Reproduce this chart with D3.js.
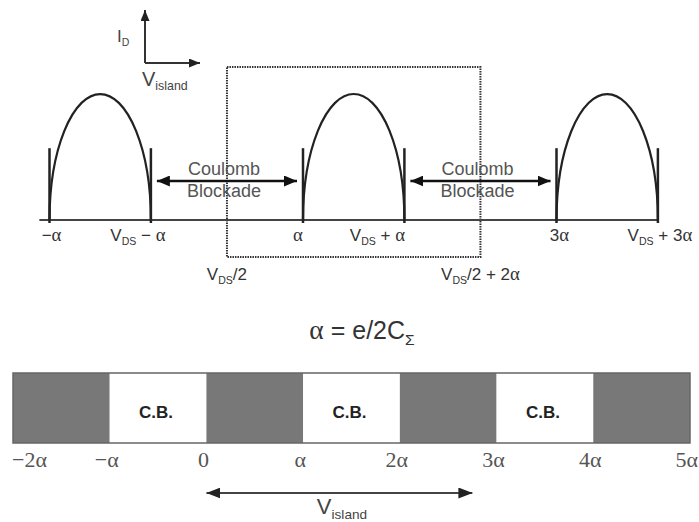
<!DOCTYPE html>
<html lang="en">
  <head>
    <meta charset="UTF-8" />
    <title>Coulomb blockade windows</title>
    <style>
      body { margin: 0; background: #fff; }
      svg { display: block; }
    </style>
  </head>
  <body>
    <script src="https://cdn.jsdelivr.net/npm/d3@7"></script>
    <div id="app"></div>
    <script>
    // values in units of alpha
      const VDS = 0.8;
      const domeStarts = [-1, 1, 3];
      const domeHeight = 1;
      const tickHeight = 0.57;
      const topTickValues = [-1, 1 - 2 + VDS, 1, 1 + VDS, 3, 3 + VDS];
      const topTickLabels = ["−α", "V_{DS} − α", "α", "V_{DS} + α", "3α", "V_{DS} + 3α"];
      const blockadeSpans = [[-1 + VDS, 1], [1 + VDS, 3]];
      const blockadeText = ["Coulomb", "Blockade"];
      const windowSpan = [VDS / 2, VDS / 2 + 2];
      const windowLabels = ["V_{DS}/2", "V_{DS}/2 + 2α"];
      const baselineSpan = [-1.08, 3 + VDS];

      const bandEdges = [-2, -1, 0, 1, 2, 3, 4, 5];
      const bandKinds = ["on", "cb", "on", "cb", "on", "cb", "on"];
      const bandTickLabels = ["−2α", "−α", "0", "α", "2α", "3α", "4α", "5α"];
      const islandSpan = [0, 2.75];

      const formula = "α = e/2C_{Σ}";

    //SVG
      const w = 699;
      const h = 522;
      const ink = "#222";
      const grey = "#444";
      const sans = "'Liberation Sans', Arial";

      const svg = d3.select("#app")
        .append("svg")
        .attr("width", w)
        .attr("height", h);

      const defs = svg.append("defs");
      const marker = (id, len, wid, col) => {
        defs.append("marker")
          .attr("id", id)
          .attr("markerUnits", "userSpaceOnUse")
          .attr("markerWidth", len)
          .attr("markerHeight", wid)
          .attr("refX", len)
          .attr("refY", wid / 2)
          .attr("orient", "auto-start-reverse")
          .append("path")
          .attr("d", `M0,0 L${len},${wid / 2} L0,${wid} Z`)
          .attr("fill", col);
      };
      marker("head", 13, 11, "#111");
      marker("headSmall", 11, 9, "#222");
      marker("headGrey", 14, 11, "#222");

    // text with _{sub} and serif alpha
      const rich = (sel, str, size) => {
        const parts = str.split(/(_\{[^}]*\})/);
        let lowered = false;
        parts.forEach(p => {
          if (!p) return;
          if (p.startsWith("_{")) {
            sel.append("tspan")
              .attr("font-size", size * 0.62)
              .attr("dy", size * 0.22)
              .text(p.slice(2, -1));
            lowered = true;
          } else {
            p.split(/(α)/).forEach(q => {
              if (!q) return;
              const t = sel.append("tspan").text(q);
              if (q === "α") t.attr("font-family", "'Liberation Serif', serif").attr("font-size", size * 1.1);
              if (lowered) { t.attr("dy", -size * 0.22); lowered = false; }
            });
          }
        });
        return sel;
      };

    //Escalas
      const xTop = d3.scaleLinear().domain([-1, 3]).range([49.5, 556.5]);
      const yTop = d3.scaleLinear().domain([0, 1]).range([220, 94]);
      const xBand = d3.scaleLinear().domain([-2, 5]).range([13, 690]);

    // little I_D / V_island axes
      const ax = svg.append("g");
      ax.append("path")
        .attr("d", "M145,63 L145,10")
        .attr("stroke", "#333").attr("stroke-width", 2).attr("fill", "none")
        .attr("marker-end", "url(#headSmall)");
      ax.append("path")
        .attr("d", "M145,63 L200,63")
        .attr("stroke", "#333").attr("stroke-width", 2).attr("fill", "none")
        .attr("marker-end", "url(#headSmall)");
      rich(ax.append("text").attr("x", 117).attr("y", 42)
        .attr("font-family", sans).attr("font-size", 17).attr("fill", grey), "I_{D}", 17);
      rich(ax.append("text").attr("x", 142).attr("y", 86)
        .attr("font-family", sans).attr("font-size", 20).attr("fill", grey), "V_{island}", 20);

    // window rect
      svg.append("rect")
        .attr("x", xTop(windowSpan[0]))
        .attr("y", 67)
        .attr("width", xTop(windowSpan[1]) - xTop(windowSpan[0]))
        .attr("height", 190)
        .attr("fill", "none")
        .attr("stroke", "#333")
        .attr("stroke-width", 2)
        .attr("stroke-dasharray", "1.5,1");

      svg.selectAll(".winLabel")
        .data(windowLabels)
        .enter()
        .append("text")
        .attr("class", "winLabel")
        .attr("x", (d, i) => xTop(windowSpan[i]))
        .attr("y", 280)
        .attr("text-anchor", "middle")
        .attr("font-family", sans)
        .attr("font-size", 17)
        .attr("fill", "#333")
        .each(function(d) { rich(d3.select(this), d, 17); });

    // baseline
      svg.append("line")
        .attr("x1", xTop(baselineSpan[0]))
        .attr("x2", xTop(baselineSpan[1]))
        .attr("y1", yTop(0))
        .attr("y2", yTop(0))
        .attr("stroke", "#444")
        .attr("stroke-width", 2);

    // domes
      svg.selectAll(".dome")
        .data(domeStarts)
        .enter()
        .append("path")
        .attr("class", "dome")
        .attr("d", d => {
          const x1 = xTop(d), x2 = xTop(d + VDS);
          const rx = (x2 - x1) / 2, ry = yTop(0) - yTop(domeHeight);
          return `M${x1},${yTop(0)} A${rx},${ry} 0 0 1 ${x2},${yTop(0)}`;
        })
        .attr("fill", "none")
        .attr("stroke", ink)
        .attr("stroke-width", 2.2);

      svg.selectAll(".tick")
        .data(topTickValues)
        .enter()
        .append("line")
        .attr("class", "tick")
        .attr("x1", d => xTop(d))
        .attr("x2", d => xTop(d))
        .attr("y1", yTop(0) + 3)
        .attr("y2", yTop(tickHeight))
        .attr("stroke", ink)
        .attr("stroke-width", 2.5);

      const topNudge = [2, -13, -5, -27, 3, 2];
      svg.selectAll(".topLabel")
        .data(topTickLabels)
        .enter()
        .append("text")
        .attr("class", "topLabel")
        .attr("x", (d, i) => xTop(topTickValues[i]) + topNudge[i])
        .attr("y", 241)
        .attr("text-anchor", "middle")
        .attr("font-family", sans)
        .attr("font-size", 17)
        .attr("fill", "#333")
        .each(function(d) { rich(d3.select(this), d, 17); });

    // Coulomb blockade arrows
      const cb = svg.selectAll(".cb")
        .data(blockadeSpans)
        .enter()
        .append("g")
        .attr("class", "cb");
      cb.append("line")
        .attr("x1", d => xTop(d[0]) + 6)
        .attr("x2", d => xTop(d[1]) - 6)
        .attr("y1", 181)
        .attr("y2", 181)
        .attr("stroke", "#111")
        .attr("stroke-width", 2.5)
        .attr("marker-start", "url(#head)")
        .attr("marker-end", "url(#head)");
      blockadeText.forEach((t, k) => {
        cb.append("text")
          .attr("x", d => (xTop(d[0]) + xTop(d[1])) / 2 - 3)
          .attr("y", 175 + k * 22)
          .attr("text-anchor", "middle")
          .attr("font-family", sans)
          .attr("font-size", 18)
          .attr("fill", "#555")
          .text(t);
      });

    // alpha = e/2C
      rich(svg.append("text")
        .attr("x", 362).attr("y", 339)
        .attr("text-anchor", "middle")
        .attr("font-family", sans)
        .attr("font-size", 25)
        .attr("fill", "#333"), formula, 25);

    // band
      const bands = d3.range(bandKinds.length).map(i => ({ a: bandEdges[i], b: bandEdges[i + 1], kind: bandKinds[i] }));
      svg.selectAll(".band")
        .data(bands)
        .enter()
        .append("rect")
        .attr("class", "band")
        .attr("x", d => xBand(d.a))
        .attr("y", 373)
        .attr("width", d => xBand(d.b) - xBand(d.a))
        .attr("height", 70)
        .attr("fill", d => d.kind === "on" ? "#787878" : "#fff");
      svg.append("rect")
        .attr("x", xBand(bandEdges[0]))
        .attr("y", 373)
        .attr("width", xBand(bandEdges[bandEdges.length - 1]) - xBand(bandEdges[0]))
        .attr("height", 70)
        .attr("fill", "none")
        .attr("stroke", "#666")
        .attr("stroke-width", 1.5);
      svg.selectAll(".cbLabel")
        .data(bands.filter(d => d.kind === "cb"))
        .enter()
        .append("text")
        .attr("class", "cbLabel")
        .attr("x", d => (xBand(d.a) + xBand(d.b)) / 2 - 2)
        .attr("y", 418)
        .attr("text-anchor", "middle")
        .attr("font-family", sans)
        .attr("font-weight", "bold")
        .attr("font-size", 17)
        .attr("fill", "#222")
        .text("C.B.");

      const last = bandEdges.length - 1;
      svg.selectAll(".bandLabel")
        .data(bandTickLabels)
        .enter()
        .append("text")
        .attr("class", "bandLabel")
        .attr("x", (d, i) => xBand(bandEdges[i]) + (i === 0 ? -1 : i === last ? 8 : -3))
        .attr("y", 467)
        .attr("text-anchor", (d, i) => i === 0 ? "start" : i === last ? "end" : "middle")
        .attr("font-family", "'Liberation Serif', serif")
        .attr("font-size", 22)
        .attr("fill", "#555")
        .text(d => d);

    // V_island arrow
      svg.append("line")
        .attr("x1", xBand(islandSpan[0]))
        .attr("x2", xBand(islandSpan[1]))
        .attr("y1", 493)
        .attr("y2", 493)
        .attr("stroke", "#444")
        .attr("stroke-width", 2)
        .attr("marker-start", "url(#headGrey)")
        .attr("marker-end", "url(#headGrey)");
      rich(svg.append("text")
        .attr("x", 342).attr("y", 514)
        .attr("text-anchor", "middle")
        .attr("font-family", sans)
        .attr("font-size", 22)
        .attr("fill", grey), "V_{island}", 22);
    </script>
  </body>
</html>
